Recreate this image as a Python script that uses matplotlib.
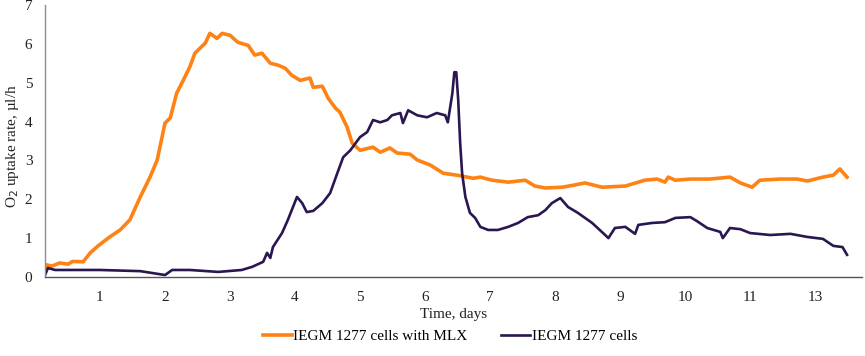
import matplotlib
matplotlib.use('Agg')
import matplotlib.pyplot as plt

# O2 uptake rate (x in axis positions, tick k = day label)
t_mlx = [0.15, 0.18, 0.26, 0.38, 0.51, 0.58, 0.74, 0.85, 0.97, 1.15, 1.31, 1.46,
         1.62, 1.77, 1.88, 2.00, 2.08, 2.18, 2.28, 2.38, 2.46, 2.62, 2.69, 2.80,
         2.88, 3.00, 3.12, 3.28, 3.38, 3.49, 3.62, 3.74, 3.85, 3.95, 4.08, 4.23,
         4.28, 4.42, 4.51, 4.62, 4.69, 4.80, 4.88, 5.00, 5.20, 5.31, 5.46, 5.57,
         5.77, 5.88, 6.08, 6.28, 6.49, 6.74, 6.85, 7.03, 7.28, 7.54, 7.69, 7.85,
         8.11, 8.31, 8.46, 8.72, 9.08, 9.38, 9.57, 9.69, 9.74, 9.85, 10.08, 10.38,
         10.69, 10.85, 11.03, 11.15, 11.46, 11.72, 11.88, 12.12, 12.28, 12.38, 12.49]
v_mlx = [0.13, 0.31, 0.28, 0.36, 0.33, 0.40, 0.39, 0.62, 0.80, 1.03, 1.21, 1.47,
         2.06, 2.57, 3.01, 3.96, 4.09, 4.73, 5.06, 5.40, 5.76, 6.02, 6.27, 6.14,
         6.27, 6.22, 6.04, 5.96, 5.71, 5.76, 5.50, 5.45, 5.37, 5.19, 5.06, 5.12,
         4.88, 4.91, 4.60, 4.35, 4.24, 3.86, 3.44, 3.26, 3.34, 3.21, 3.32, 3.19,
         3.16, 3.01, 2.88, 2.67, 2.62, 2.54, 2.57, 2.49, 2.44, 2.49, 2.34, 2.29,
         2.31, 2.37, 2.42, 2.31, 2.34, 2.49, 2.52, 2.44, 2.57, 2.49, 2.52, 2.52,
         2.57, 2.42, 2.31, 2.49, 2.52, 2.52, 2.47, 2.57, 2.62, 2.78, 2.57]

t_ctrl = [0.15, 0.20, 0.31, 1.00, 1.62, 2.00, 2.11, 2.38, 2.82, 3.18, 3.34, 3.51,
          3.57, 3.62, 3.66, 3.80, 3.89, 4.03, 4.11, 4.18, 4.28, 4.42, 4.54, 4.65,
          4.74, 4.85, 5.00, 5.11, 5.20, 5.31, 5.42, 5.49, 5.62, 5.66, 5.74, 5.88,
          6.03, 6.18, 6.31, 6.35, 6.42, 6.45, 6.48, 6.51, 6.54, 6.57, 6.62, 6.69,
          6.77, 6.85, 6.97, 7.12, 7.28, 7.43, 7.58, 7.74, 7.85, 7.95, 8.08, 8.20,
          8.35, 8.57, 8.77, 8.82, 8.92, 9.08, 9.23, 9.28, 9.49, 9.69, 9.85, 10.08,
          10.18, 10.34, 10.54, 10.58, 10.69, 10.85, 11.00, 11.31, 11.62, 11.88,
          12.12, 12.28, 12.42, 12.49]
v_ctrl = [0.03, 0.23, 0.18, 0.18, 0.15, 0.05, 0.18, 0.18, 0.13, 0.18, 0.26, 0.39,
          0.62, 0.49, 0.77, 1.13, 1.47, 2.06, 1.90, 1.67, 1.70, 1.90, 2.16, 2.67,
          3.08, 3.26, 3.60, 3.73, 4.04, 3.98, 4.04, 4.16, 4.22, 3.96, 4.29, 4.16,
          4.11, 4.22, 4.16, 3.98, 4.73, 5.27, 5.27, 4.55, 3.44, 2.67, 2.06, 1.65,
          1.52, 1.29, 1.21, 1.21, 1.29, 1.39, 1.54, 1.59, 1.72, 1.90, 2.03, 1.80,
          1.65, 1.39, 1.08, 1.00, 1.26, 1.29, 1.11, 1.34, 1.39, 1.41, 1.52, 1.54,
          1.44, 1.26, 1.16, 1.00, 1.26, 1.23, 1.13, 1.08, 1.11, 1.03,
          0.98, 0.80, 0.77, 0.57]

x_ticks = list(range(1, 13))
x_labels = ['1', '2', '3', '4', '5', '6', '7', '8', '9', '10', '11', '13']
y_ticks = list(range(0, 8))

plt.rcParams['font.family'] = ['Liberation Serif', 'DejaVu Serif']

fig = plt.figure(figsize=(8.65, 3.56), dpi=100)
ax = fig.add_axes([0.052, 0.222, 0.9445, 0.764])

ax.plot(t_mlx, v_mlx, color='#ff8215', lw=2.6, label='IEGM 1277 cells with MLX')
ax.plot(t_ctrl, v_ctrl, color='#2a1650', lw=1.9, label='IEGM 1277 cells')

ax.set_xlim(0.154, 12.72)
ax.set_ylim(0, 7)
ax.set_xticks(x_ticks)
ax.set_xticklabels(x_labels)
ax.set_yticks(y_ticks)
ax.tick_params(length=0, labelsize=11, colors='#222222')
ax.tick_params(axis='x', pad=10)
ax.tick_params(axis='y', pad=9)

for s in ['top', 'right']:
    ax.spines[s].set_visible(False)
ax.spines['left'].set_color('#8c8c8c')
ax.spines['bottom'].set_color('#555555')
ax.spines['left'].set_linewidth(1.0)
ax.spines['bottom'].set_linewidth(1.0)

ax.set_xlabel('Time, days', fontsize=11, labelpad=3, color='#222222')
fig.text(0.014, 0.59, 'O$_2$ uptake rate, µl/h', rotation=90, fontsize=11,
         ha='center', va='center', color='#222222')

fig.legend(loc='center', bbox_to_anchor=(0.52, 0.055), ncol=2, frameon=False,
           fontsize=11, handlelength=1.9, columnspacing=2.2, handletextpad=0.1)

fig.savefig('out.png', dpi=100)
